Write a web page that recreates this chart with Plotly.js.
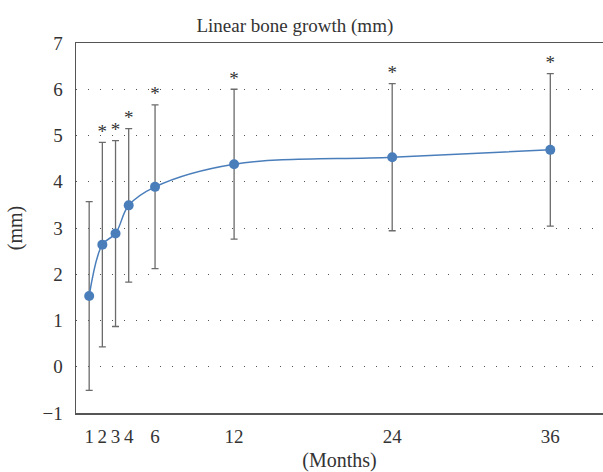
<!DOCTYPE html>
<html>
<head>
<meta charset="utf-8">
<script src="https://cdn.plot.ly/plotly-3.0.1.min.js"></script>
<style>html,body{margin:0;padding:0;background:#fff;}#chart{width:603px;height:472px;}</style>
</head>
<body>
<div id="chart"></div>
<script>
const months = [1, 2, 3, 4, 6, 12, 24, 36];
const growth = [1.53, 2.64, 2.88, 3.49, 3.89, 4.38, 4.53, 4.69];
const errors = [2.04, 2.21, 2.01, 1.66, 1.77, 1.62, 1.59, 1.65];
const marks = ['', '*', '*', '*', '*', '*', '*', '*'];
const xTicks = [1, 2, 3, 4, 6, 12, 24, 36];
const yTicks = [-1, 0, 1, 2, 3, 4, 5, 6, 7];
const yTickLabels = ['\u22121', '0', '1', '2', '3', '4', '5', '6', '7'];

const FONT = 'Liberation Serif, DejaVu Serif, serif';
const upper = growth.map((v, i) => v + errors[i]);

const traces = [
  {
    x: months, y: growth, type: 'scatter', mode: 'lines+markers',
    line: {color: '#4a7ebb', width: 1.5, shape: 'spline', smoothing: 1},
    marker: {color: '#4a7ebb', size: 10},
    error_y: {type: 'data', array: errors, visible: true, color: '#6b6b6b', thickness: 1.3, width: 3.5},
    hoverinfo: 'skip'
  },
  {
    x: months, y: upper, type: 'scatter', mode: 'text',
    text: marks, textposition: 'top center',
    textfont: {family: FONT, size: 19, color: '#333'},
    hoverinfo: 'skip'
  }
];

const layout = {
  width: 603, height: 472,
  margin: {l: 76, r: 0, t: 43, b: 59},
  paper_bgcolor: '#fff', plot_bgcolor: '#fff',
  showlegend: false,
  font: {family: FONT, color: '#333'},
  title: {text: 'Linear bone growth (mm)', font: {family: FONT, size: 19, color: '#333'}, x: 0.489, xref: 'container', xanchor: 'center', y: 0.947, yref: 'container', yanchor: 'middle'},
  xaxis: {
    range: [0, 40], tickmode: 'array', tickvals: xTicks, ticktext: xTicks.map(String),
    showgrid: false, zeroline: false,
    showline: true, linecolor: '#555', linewidth: 1.5, mirror: true,
    ticks: 'outside', ticklen: 6, tickcolor: 'rgba(0,0,0,0)',
    tickfont: {family: FONT, size: 19, color: '#333'},
    title: {text: '(Months)', font: {family: FONT, size: 20, color: '#333'}, standoff: 6}
  },
  yaxis: {
    range: [-1, 7], tickmode: 'array', tickvals: yTicks, ticktext: yTickLabels,
    showgrid: true, gridcolor: '#555', gridwidth: 1, griddash: '1px,11px',
    zeroline: false,
    showline: true, linecolor: '#555', linewidth: 1.5,
    ticks: 'outside', ticklen: 8, tickcolor: 'rgba(0,0,0,0)',
    tickfont: {family: FONT, size: 19, color: '#333'},
    title: {text: '(mm)', font: {family: FONT, size: 20, color: '#333'}, standoff: 14}
  }
};

Plotly.newPlot('chart', traces, layout, {staticPlot: true, displayModeBar: false});
</script>
</body>
</html>
